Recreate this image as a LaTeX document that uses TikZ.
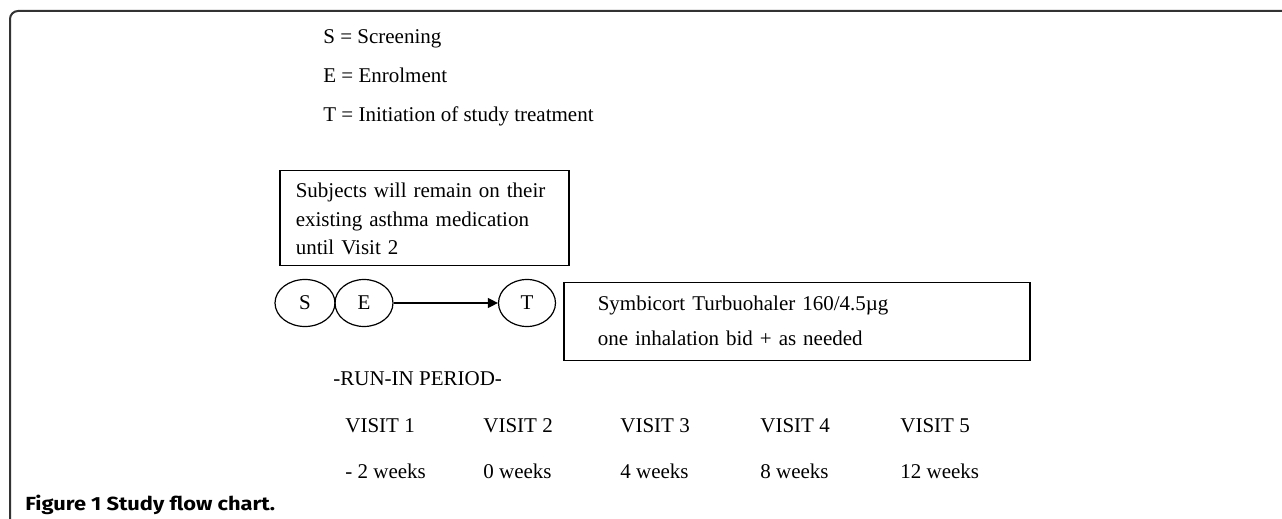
\documentclass[tikz,border=0pt]{standalone}
\usepackage{fontspec}
\setmainfont{Liberation Serif}
\newfontfamily\capfont[FakeStretch=1.15]{Fira Sans}
\usetikzlibrary{arrows.meta, shapes.geometric, positioning}

\begin{document}
\begin{tikzpicture}[
    x=0.5pt, y=-0.5pt,
    every node/.style={font=\fontsize{10.5}{14.25}\selectfont},
    txt/.style={anchor=base west, inner sep=0pt},
    visitmark/.style={ellipse, draw, line width=0.6pt, inner sep=0pt, minimum height=23.5pt},
    infobox/.style={draw, line width=0.75pt, anchor=north west, align=left, inner ysep=0pt}
]
    \useasboundingbox (0,0) rectangle (1282,519);
    % figure frame, open at right and bottom
    \draw[line width=1pt, black!80, rounded corners=4pt] (10,519) -- (10,11) -- (1282,11);

    % legend
    \node[txt] (legS) at (323,44) {S = Screening};
    \node[txt] (legE) at (323,83) {E = Enrolment};
    \node[txt] (legT) at (323,122) {T = Initiation of study treatment};

    % note on existing medication
    \node[
        infobox,
        inner xsep=8pt,
        text width=128.5pt,
        text height=13.5pt, % first baseline
        text depth=34pt
    ] (note) at (279,170) {Subjects will remain on their\\existing asthma medication\\until Visit 2};

    % visits
    \node[visitmark, minimum width=30pt] (S) at (305,303) {S};
    \node[visitmark, minimum width=29pt] (E) at (364,303) {E};
    \node[visitmark, minimum width=28.5pt] (T) at (527,303) {T};
    \draw[-{Triangle[length=5pt, width=5pt]}, line width=0.6pt] (E) -- (T);

    % study treatment
    \node[
        infobox,
        font=\fontsize{10.5}{17.5}\selectfont,
        inner xsep=17pt,
        text width=199pt,
        text height=14pt,
        text depth=25pt
    ] (treat) at (563,282) {Symbicort Turbuohaler 160/4.5µg\\one inhalation bid + as needed};

    % time line
    \node[txt] (runin) at (333,386) {-RUN-IN PERIOD-};
    \foreach \x/\v/\w in {345/1/- 2, 483/2/0, 620/3/4, 760/4/8, 900/5/12} {
        \node[txt] (visit\v) at (\x,432) {VISIT \v};
        \node[txt] (week\v) at (\x,479) {\w\ weeks};
    }

    \node[txt, font=\capfont\bfseries\fontsize{9.5}{11}\selectfont] (caption) at (25,510) {Figure 1 Study flow chart.};
\end{tikzpicture}
\end{document}
